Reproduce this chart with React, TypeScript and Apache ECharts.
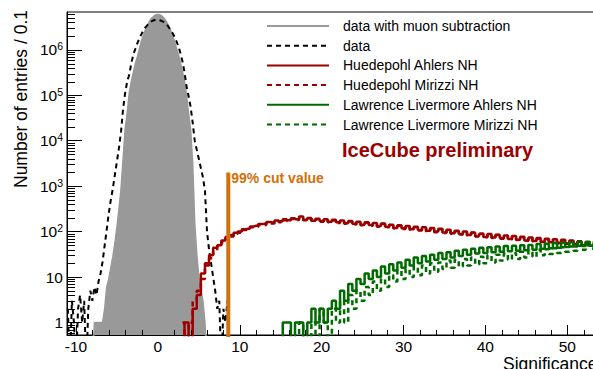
import React, { useEffect, useRef } from 'react';
import * as echarts from 'echarts';

const FONT = '"Liberation Sans", Arial, Helvetica, sans-serif';

// ---- axis definitions ----
const X_MIN = -11.1;
const X_MAX = 54;
const Y_MIN = 0.53;
const Y_MAX = 6.8e6;
const xMinorTicks = [-8, -6, -4, -2, 2, 4, 6, 8, 12, 14, 16, 18, 22, 24, 26, 28, 32, 34, 36, 38, 42, 44, 46, 48, 52];
const yMinorMultipliers = [2, 3, 4, 5, 6, 7, 8, 9];
const yDecades = [0.1, 1, 10, 100, 1e3, 1e4, 1e5, 1e6];

// ---- texts ----
const xAxisTitle = 'Significance';
const yAxisTitle = 'Number of entries / 0.1';
const watermark = 'IceCube preliminary';
const cutLabel = '99% cut value';
const seriesNames = [
  'data with muon subtraction',
  'data',
  'Huedepohl Ahlers NH',
  'Huedepohl Mirizzi NH',
  'Lawrence Livermore Ahlers NH',
  'Lawrence Livermore Mirizzi NH',
];

// ---- cut marker ----
const cutValue = 8.6;
const cutTop = 2000;

// ---- histograms (bin centre start, bin step, counts) ----
const grayStart = -8;
const grayStep = 0.25;
const grayCounts = [
  0.1, 1, 1, 1, 1, 1, 2, 6, 9, 16,
  28, 56, 126, 316, 890, 4000, 17800, 40000, 112000, 200000,
  316000, 500000, 708000, 1070000, 1580000, 2140000, 2820000, 3550000, 4270000, 5010000,
  5500000, 5890000, 6030000, 5890000, 5500000, 5010000, 4270000, 3550000, 2820000, 2140000,
  1580000, 1120000, 794000, 525000, 331000, 200000, 100000, 40000, 17800, 3160,
  158, 32, 10, 5, 3, 1, 0.1,
];

const dataStart = -11;
const dataStep = 0.25;
const dataCounts = [
  2, 0.1, 3, 1, 0.1, 2, 4, 1, 3, 0.1,
  2, 5, 3, 6, 4, 8, 12, 22, 50, 110,
  250, 500, 890, 1800, 3500, 7000, 15800, 50000, 112000, 200000,
  282000, 500000, 794000, 1050000, 1410000, 1800000, 2240000, 2700000, 3160000, 3550000,
  3980000, 4270000, 4470000, 4570000, 4570000, 4470000, 4270000, 4070000, 3720000, 3310000,
  2820000, 2400000, 2000000, 1580000, 1200000, 850000, 562000, 320000, 158000, 95000,
  56000, 25000, 10000, 6300, 4000, 2500, 1580, 800, 100, 40,
  20, 10, 5, 2, 3, 0.1, 2, 1, 3, 0.1,
  0.1,
];

const redStart = 3;
const redStep = 0.5;
const redAhlersCounts = [
  0.1, 1, 0.1, 2, 4, 12, 20, 30, 44, 50,
  64, 76, 84, 94, 100, 112, 116, 130, 134, 146,
  148, 162, 158, 176, 168, 186, 178, 196, 188, 214,
  182, 200, 174, 192, 170, 186, 164, 182, 160, 176,
  152, 172, 148, 164, 142, 160, 140, 154, 132, 150,
  128, 142, 120, 138, 118, 132, 112, 128, 108, 124,
  104, 120, 100, 115, 96, 110, 92, 104, 88, 100,
  84, 96, 80, 90, 76, 88, 74, 85, 72, 82,
  69, 80, 66, 77, 64, 74, 62, 72, 60, 70,
  58, 68, 57, 66, 55, 64, 53, 61, 51, 58,
  49, 56, 48,
];
const redMirizziCounts = [
  1, 0.1, 1, 3, 5, 9, 18, 26, 38, 48,
  58, 70, 78, 90, 94, 108, 110, 124, 126, 140,
  140, 156, 150, 168, 160, 178, 170, 190, 180, 200,
  178, 194, 170, 188, 164, 182, 160, 176, 154, 172,
  148, 166, 144, 160, 138, 156, 134, 150, 128, 146,
  124, 140, 118, 134, 114, 130, 110, 124, 106, 120,
  100, 116, 97, 112, 93, 106, 90, 102, 86, 98,
  82, 94, 78, 90, 75, 86, 72, 84, 70, 80,
  67, 78, 65, 75, 63, 73, 61, 70, 59, 68,
  57, 66, 55, 64, 54, 62, 52, 60, 50, 57,
  48, 55, 47,
];

const greenStep = 0.5;
const greenAhlersStart = 15;
const greenAhlersCounts = [
  0.1, 1, 1, 0.1, 1, 1, 0.1, 1, 2, 1,
  2, 1, 2, 3, 2, 5, 3, 7, 5, 9,
  7, 12, 9, 14, 10, 17, 12, 19, 14, 21,
  16, 24, 18, 27, 20, 29, 22, 31, 24, 34,
  25, 35, 27, 38, 29, 40, 31, 42, 33, 44,
  34, 45, 35, 47, 36, 48, 37, 49, 38, 50,
  39, 51, 40, 53, 42, 54, 43, 56, 44, 57,
  46, 58, 47, 59, 48, 60, 49, 61, 50,
];
const greenMirizziStart = 17;
const greenMirizziCounts = [
  0.1, 1, 0.1, 0.1, 1, 0.1, 2, 1, 0.1, 2,
  1, 3, 1, 4, 2, 5, 3, 6, 4, 8,
  5, 9, 6, 11, 8, 14, 9, 15, 10, 17,
  11, 18, 12, 20, 13, 21, 15, 23, 16, 24,
  17, 25, 18, 27, 19, 28, 20, 30, 21, 31,
  23, 33, 24, 34, 25, 36, 27, 38, 28, 40,
  30, 41, 32, 43, 34, 45, 36, 47, 38, 49,
  40, 50, 42, 52, 44,
];

// ---- colours ----
const GRAY = '#999999';
const RED = '#9c0000';
const GREEN = '#006b00';
const ORANGE = '#d2700a';

const toBins = (start: number, step: number, counts: number[]) =>
  counts.map((c, i) => [Math.round((start + i * step) * 100) / 100, c]);

const yMinorTicks = yDecades
  .flatMap((d) => yMinorMultipliers.map((m) => m * d))
  .filter((v) => v > Y_MIN && v < Y_MAX);

const fmtY = (v: number) => {
  const e = Math.log10(v);
  const r = Math.round(e);
  if (Math.abs(e - r) > 1e-6) return '';
  if (r === 0) return '{b|1}';
  if (r === 1) return '{b|10}';
  return `{b|10}{s|${r}}`;
};

const fmtX = (v: number) => {
  const r = Math.round(v);
  if (Math.abs(v - r) > 1e-6 || r % 10 !== 0) return '';
  return String(r);
};

export default function App() {
  const ref = useRef<HTMLDivElement>(null);

  useEffect(() => {
    if (!ref.current) return;
    const chart = echarts.init(ref.current, undefined, { renderer: 'svg' });

    const option: any = {
      animation: false,
      backgroundColor: '#ffffff',
      textStyle: { fontFamily: FONT },
      grid: {
        left: 67,
        right: 5,
        top: 12,
        bottom: 34,
        containLabel: false,
        outerBoundsMode: 'none',
        show: true,
        borderColor: '#000',
        borderWidth: 1,
        backgroundColor: 'transparent',
      },
      legend: {
        orient: 'vertical',
        left: 261,
        top: 14,
        itemWidth: 62,
        itemHeight: 14,
        itemGap: 5.7,
        selectedMode: false,
        data: seriesNames,
        itemStyle: { opacity: 0 },
        textStyle: { fontSize: 14, color: '#000', fontFamily: FONT, padding: [0, 0, 0, 9] },
      },
      xAxis: {
        type: 'value',
        min: X_MIN,
        max: X_MAX,
        axisLine: { show: true, onZero: false, lineStyle: { color: '#000', width: 1 } },
        axisTick: { show: true, inside: true, length: 10, lineStyle: { color: '#000', width: 1 } },
        axisLabel: {
          margin: 3,
          fontSize: 15.5,
          color: '#000',
          fontFamily: FONT,
          formatter: fmtX,
          showMinLabel: false,
          showMaxLabel: false,
        },
        splitLine: { show: false },
      },
      yAxis: {
        type: 'log',
        logBase: 10,
        min: Y_MIN,
        max: Y_MAX,
        axisLine: { show: true, onZero: false, lineStyle: { color: '#000', width: 1 } },
        axisTick: { show: true, inside: true, length: 15, lineStyle: { color: '#000', width: 1 } },
        axisLabel: {
          margin: 4,
          color: '#000',
          fontFamily: FONT,
          formatter: fmtY,
          showMinLabel: false,
          showMaxLabel: false,
          rich: {
            b: { fontSize: 15.5, fontFamily: FONT, color: '#000', lineHeight: 18 },
            s: { fontSize: 10.5, fontFamily: FONT, color: '#000', lineHeight: 12, verticalAlign: 'top' },
          },
        },
        splitLine: { show: false },
      },
      graphic: [
        {
          type: 'text',
          x: 21,
          y: 10,
          rotation: Math.PI / 2,
          style: {
            text: yAxisTitle,
            fontSize: 17.5,
            fontFamily: FONT,
            fill: '#000',
            align: 'right',
            verticalAlign: 'middle',
          },
        },
        {
          type: 'text',
          x: 503,
          y: 355,
          style: {
            text: xAxisTitle,
            fontSize: 17.5,
            fontFamily: FONT,
            fill: '#000',
            align: 'left',
            verticalAlign: 'top',
          },
        },
        {
          type: 'text',
          x: 342,
          y: 150,
          style: {
            text: watermark,
            fontSize: 20,
            fontWeight: 'bold',
            fontFamily: FONT,
            fill: RED,
            verticalAlign: 'middle',
          },
        },
      ],
      series: [
        {
          type: 'line',
          name: seriesNames[0],
          data: toBins(grayStart, grayStep, grayCounts),
          symbol: 'none',
          lineStyle: { color: GRAY, width: 1.5 },
          itemStyle: { color: GRAY },
          areaStyle: { color: GRAY, opacity: 1, origin: 'start' },
          z: 1,
        },
        {
          type: 'line',
          name: seriesNames[1],
          data: toBins(dataStart, dataStep, dataCounts),
          symbol: 'none',
          lineStyle: { color: '#000', width: 2, type: [5, 4] },
          itemStyle: { color: '#000' },
          z: 2,
        },
        {
          type: 'line',
          name: seriesNames[2],
          data: toBins(redStart, redStep, redAhlersCounts),
          symbol: 'none',
          step: 'middle',
          lineStyle: { color: RED, width: 2.5 },
          itemStyle: { color: RED },
          z: 3,
        },
        {
          type: 'line',
          name: seriesNames[3],
          data: toBins(redStart, redStep, redMirizziCounts),
          symbol: 'none',
          step: 'middle',
          lineStyle: { color: RED, width: 2.5, type: [5, 4] },
          itemStyle: { color: RED },
          z: 3,
        },
        {
          type: 'line',
          name: seriesNames[4],
          data: toBins(greenAhlersStart, greenStep, greenAhlersCounts),
          symbol: 'none',
          step: 'middle',
          lineStyle: { color: GREEN, width: 2.5 },
          itemStyle: { color: GREEN },
          z: 3,
        },
        {
          type: 'line',
          name: seriesNames[5],
          data: toBins(greenMirizziStart, greenStep, greenMirizziCounts),
          symbol: 'none',
          step: 'middle',
          lineStyle: { color: GREEN, width: 2.5, type: [5, 4] },
          itemStyle: { color: GREEN },
          z: 3,
        },
        {
          type: 'line',
          name: 'cut',
          data: [
            [cutValue, 0.1],
            [cutValue, cutTop],
          ],
          symbol: 'none',
          lineStyle: { color: ORANGE, width: 4 },
          itemStyle: { color: ORANGE },
          endLabel: {
            show: true,
            formatter: cutLabel,
            distance: 3,
            offset: [0, 6],
            color: ORANGE,
            fontWeight: 'bold',
            fontSize: 14,
            fontFamily: FONT,
          },
          z: 4,
        },
        {
          type: 'custom',
          name: 'yMinor',
          silent: true,
          z: 6,
          data: yMinorTicks.map((v) => [X_MIN, v]),
          renderItem: (_p: any, api: any) => {
            const p = api.coord([api.value(0), api.value(1)]);
            const y = Math.round(p[1]) + 0.5;
            return {
              type: 'line',
              shape: { x1: p[0], y1: y, x2: p[0] + 8, y2: y },
              style: { stroke: '#000', lineWidth: 1 },
            };
          },
        },
        {
          type: 'custom',
          name: 'xMinor',
          silent: true,
          z: 6,
          data: xMinorTicks.map((v) => [v, Y_MIN]),
          renderItem: (_p: any, api: any) => {
            const p = api.coord([api.value(0), api.value(1)]);
            const x = Math.round(p[0]) + 0.5;
            return {
              type: 'line',
              shape: { x1: x, y1: p[1], x2: x, y2: p[1] - 5 },
              style: { stroke: '#000', lineWidth: 1 },
            };
          },
        },
      ],
    };

    chart.setOption(option);
    return () => chart.dispose();
  }, []);

  return (
    <div
      ref={ref}
      style={{ position: 'fixed', left: 0, top: 0, width: 605, height: 369, background: '#fff' }}
    />
  );
}
